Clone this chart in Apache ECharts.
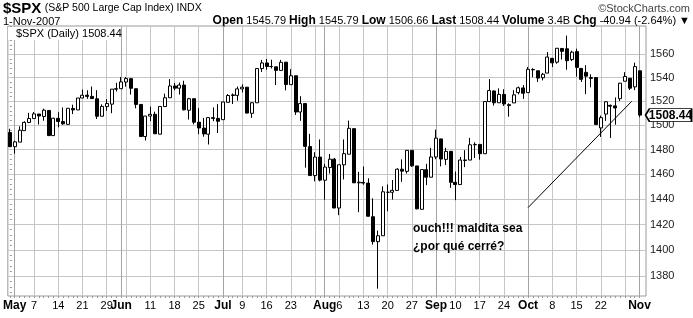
<!DOCTYPE html>
<html><head><meta charset="utf-8">
<script src="https://cdn.jsdelivr.net/npm/echarts@6/dist/echarts.min.js"></script>
<style>html,body{margin:0;padding:0;background:#fff}#c{width:693px;height:318px}</style>
</head><body><div id="c"></div>
<script>
const dates = ['2007-04-30','2007-05-01','2007-05-02','2007-05-03','2007-05-04','2007-05-07','2007-05-08','2007-05-09','2007-05-10','2007-05-11','2007-05-14','2007-05-15','2007-05-16','2007-05-17','2007-05-18','2007-05-21','2007-05-22','2007-05-23','2007-05-24','2007-05-25','2007-05-29','2007-05-30','2007-05-31','2007-06-01','2007-06-04','2007-06-05','2007-06-06','2007-06-07','2007-06-08','2007-06-11','2007-06-12','2007-06-13','2007-06-14','2007-06-15','2007-06-18','2007-06-19','2007-06-20','2007-06-21','2007-06-22','2007-06-25','2007-06-26','2007-06-27','2007-06-28','2007-06-29','2007-07-02','2007-07-03','2007-07-05','2007-07-06','2007-07-09','2007-07-10','2007-07-11','2007-07-12','2007-07-13','2007-07-16','2007-07-17','2007-07-18','2007-07-19','2007-07-20','2007-07-23','2007-07-24','2007-07-25','2007-07-26','2007-07-27','2007-07-30','2007-07-31','2007-08-01','2007-08-02','2007-08-03','2007-08-06','2007-08-07','2007-08-08','2007-08-09','2007-08-10','2007-08-13','2007-08-14','2007-08-15','2007-08-16','2007-08-17','2007-08-20','2007-08-21','2007-08-22','2007-08-23','2007-08-24','2007-08-27','2007-08-28','2007-08-29','2007-08-30','2007-08-31','2007-09-04','2007-09-05','2007-09-06','2007-09-07','2007-09-10','2007-09-11','2007-09-12','2007-09-13','2007-09-14','2007-09-17','2007-09-18','2007-09-19','2007-09-20','2007-09-21','2007-09-24','2007-09-25','2007-09-26','2007-09-27','2007-09-28','2007-10-01','2007-10-02','2007-10-03','2007-10-04','2007-10-05','2007-10-08','2007-10-09','2007-10-10','2007-10-11','2007-10-12','2007-10-15','2007-10-16','2007-10-17','2007-10-18','2007-10-19','2007-10-22','2007-10-23','2007-10-24','2007-10-25','2007-10-26','2007-10-29','2007-10-30','2007-10-31','2007-11-01'];
const open = [1494.07,1482.37,1486.13,1495.56,1502.35,1505.57,1509.36,1507.32,1512.33,1491.47,1505.76,1503.11,1500.75,1514.01,1512.74,1522.75,1525.10,1524.09,1522.10,1507.50,1515.55,1517.60,1530.19,1530.62,1536.28,1539.12,1530.57,1517.36,1490.71,1507.64,1509.12,1492.65,1515.58,1522.97,1532.90,1531.02,1533.68,1512.50,1522.19,1502.56,1497.68,1492.62,1506.32,1505.70,1504.66,1519.12,1524.86,1524.96,1530.43,1531.85,1509.93,1518.74,1547.68,1552.50,1549.52,1549.20,1546.13,1553.19,1534.06,1541.57,1511.03,1518.09,1482.44,1458.93,1473.90,1455.18,1465.46,1472.18,1433.04,1467.62,1476.22,1497.21,1453.09,1453.42,1452.87,1426.15,1406.64,1411.26,1445.55,1445.55,1447.03,1464.05,1462.34,1479.36,1466.72,1432.01,1463.67,1457.61,1473.96,1488.76,1472.03,1478.55,1453.50,1451.69,1471.10,1471.47,1483.95,1484.24,1476.63,1519.75,1528.69,1518.75,1525.75,1516.34,1518.62,1527.32,1531.24,1527.29,1546.96,1545.80,1539.91,1543.84,1556.51,1553.18,1564.98,1564.72,1555.41,1562.25,1547.81,1544.44,1539.29,1540.00,1497.79,1509.30,1516.61,1516.15,1522.17,1536.92,1539.42,1532.15,1545.79];
const high = [1497.16,1487.27,1499.10,1503.34,1510.34,1511.00,1509.36,1513.80,1512.33,1506.24,1510.90,1514.83,1514.15,1517.14,1522.75,1529.87,1529.24,1532.43,1529.31,1517.41,1521.80,1530.23,1535.56,1540.56,1540.53,1539.12,1530.57,1517.36,1507.76,1515.53,1511.33,1515.70,1526.45,1538.71,1535.44,1535.85,1537.32,1522.90,1522.19,1514.29,1506.12,1506.80,1514.84,1517.53,1519.45,1526.01,1526.57,1532.40,1534.26,1531.85,1519.34,1547.92,1555.10,1555.90,1555.32,1549.20,1555.20,1553.19,1547.23,1541.57,1524.31,1518.09,1492.89,1477.88,1488.30,1468.38,1476.43,1473.23,1467.67,1488.30,1503.89,1497.21,1462.02,1466.29,1456.74,1440.78,1415.29,1450.33,1451.75,1455.32,1464.86,1472.06,1479.40,1479.36,1466.72,1463.76,1468.43,1481.47,1496.40,1488.76,1481.49,1478.55,1462.25,1473.98,1479.50,1489.58,1485.99,1484.24,1519.89,1538.74,1529.14,1530.89,1530.18,1518.27,1529.39,1532.46,1533.74,1549.02,1548.01,1545.84,1544.02,1561.91,1556.51,1565.26,1565.42,1576.09,1563.03,1564.74,1547.81,1550.66,1542.79,1540.00,1508.06,1520.01,1517.23,1523.24,1535.53,1544.67,1539.42,1552.76,1545.79];
const low = [1482.29,1476.70,1486.13,1495.56,1501.80,1505.54,1500.66,1503.77,1491.42,1491.47,1498.34,1500.43,1500.75,1509.29,1512.74,1522.71,1522.05,1521.90,1505.18,1507.50,1512.02,1510.06,1528.26,1530.62,1532.31,1525.62,1514.13,1490.37,1487.41,1503.35,1492.97,1492.65,1515.58,1522.97,1529.31,1525.67,1512.36,1504.75,1500.74,1492.68,1490.54,1484.18,1503.41,1493.61,1504.66,1519.12,1517.72,1520.47,1527.45,1510.01,1506.10,1518.74,1544.85,1546.69,1547.74,1533.67,1546.13,1529.20,1534.06,1508.62,1503.73,1465.30,1458.57,1454.32,1454.25,1439.59,1460.58,1432.80,1427.39,1455.80,1476.22,1453.09,1429.74,1451.54,1426.20,1404.36,1370.60,1411.26,1430.54,1439.76,1447.03,1453.88,1460.54,1465.98,1432.01,1432.01,1451.25,1457.61,1472.15,1466.34,1467.41,1449.07,1439.29,1451.69,1465.75,1471.47,1473.18,1471.82,1476.63,1519.75,1516.42,1518.75,1516.15,1507.13,1518.62,1525.81,1521.99,1527.25,1540.37,1536.34,1537.63,1543.84,1549.00,1551.82,1555.46,1546.72,1554.09,1540.81,1536.29,1526.01,1531.76,1500.26,1490.40,1503.61,1489.56,1500.46,1520.18,1536.92,1529.55,1529.40,1506.66];
const close = [1482.37,1486.30,1495.92,1502.39,1505.62,1509.48,1507.72,1512.58,1491.47,1505.85,1503.15,1501.19,1514.14,1512.75,1522.75,1525.10,1524.12,1522.28,1507.51,1515.73,1518.11,1530.23,1530.62,1536.34,1539.18,1530.95,1517.38,1490.72,1507.67,1509.12,1493.00,1515.67,1522.97,1532.91,1531.05,1533.70,1512.84,1522.19,1502.56,1497.74,1492.89,1506.34,1505.71,1503.35,1519.43,1524.87,1525.40,1530.44,1531.85,1510.12,1518.76,1547.70,1552.50,1549.52,1549.37,1546.17,1553.08,1534.10,1541.57,1511.04,1518.09,1482.66,1458.95,1473.91,1455.27,1465.81,1472.20,1433.06,1467.67,1476.71,1497.49,1453.09,1453.64,1452.92,1426.54,1406.70,1411.27,1445.94,1445.55,1447.12,1464.07,1462.50,1479.37,1466.79,1432.36,1463.76,1457.64,1473.99,1489.42,1472.29,1478.55,1453.55,1451.70,1471.49,1471.56,1483.95,1484.25,1476.65,1519.78,1529.03,1518.75,1525.75,1517.73,1517.21,1525.42,1531.38,1526.75,1547.04,1546.63,1539.59,1542.84,1557.59,1552.58,1565.15,1562.47,1554.41,1561.80,1548.71,1538.53,1541.24,1540.08,1500.63,1506.33,1519.59,1515.88,1514.40,1535.28,1540.98,1531.02,1549.38,1508.44];

const yTicks = [1380,1400,1420,1440,1460,1480,1500,1520,1540,1560];
const monthStarts = ['2007-05-01','2007-06-01','2007-07-02','2007-08-01','2007-09-04','2007-10-01','2007-11-01'];
const weekStarts = ['2007-05-07','2007-05-14','2007-05-21','2007-05-29','2007-06-04','2007-06-11','2007-06-18','2007-06-25','2007-07-09','2007-07-16','2007-07-23','2007-07-30','2007-08-06','2007-08-13','2007-08-20','2007-08-27','2007-09-10','2007-09-17','2007-09-24','2007-10-08','2007-10-15','2007-10-22','2007-10-29'];
const tickDates = ['2007-05-01','2007-05-07','2007-05-14','2007-05-21','2007-05-29','2007-06-01','2007-06-11','2007-06-18','2007-06-25','2007-07-02','2007-07-09','2007-07-16','2007-07-23','2007-08-01','2007-08-06','2007-08-13','2007-08-20','2007-08-27','2007-09-04','2007-09-10','2007-09-17','2007-09-24','2007-10-01','2007-10-08','2007-10-15','2007-10-22','2007-11-01'];
const tickLabels = ['May','7','14','21','29','Jun','11','18','25','Jul','9','16','23','Aug','6','13','20','27','Sep','10','17','24','Oct','8','15','22','Nov'];
// hand-drawn trend line (x in trading-day index, y in price)
const trendX = [107, 128.4];
const trendY = [1433.4, 1520];
const noteLines = ['ouch!!! maldita sea', '¿por qué cerré?'];
const lastInfo = {date:'1-Nov-2007', open:'1545.79', high:'1545.79', low:'1506.66', last:'1508.44', volume:'3.4B', chg:'-40.94 (-2.64%)'};

const FONT = '"Liberation Sans", Arial, sans-serif';
const idx = d => dates.indexOf(d);
const monthSet = new Set(monthStarts);
const labelMap = {};
tickDates.forEach((d,i) => { labelMap[idx(d)] = monthSet.has(d) ? '{m|' + tickLabels[i] + '}' : tickLabels[i]; });
const minorY = []; for (let v = 1368; v <= 1584; v += 4) minorY.push(v);

const gridLines = [];
yTicks.forEach(v => gridLines.push({yAxis: v, lineStyle: {color: '#c6c6c6'}}));
weekStarts.forEach(d => gridLines.push({xAxis: idx(d), lineStyle: {color: '#c6c6c6'}}));
monthStarts.forEach(d => gridLines.push({xAxis: idx(d), lineStyle: {color: '#a4a4a4'}}));

const n = dates.length;
const chart = echarts.init(document.getElementById('c'), null, {renderer: 'canvas'});
chart.setOption({
  animation: false,
  backgroundColor: '#fff',
  textStyle: {fontFamily: FONT},
  grid: {left: 7, top: 26, width: 639, height: 270, show: true, borderColor: '#9a9a9a', borderWidth: 1, backgroundColor: 'transparent'},
  xAxis: {
    type: 'value', min: -0.41, max: 131.34,
    splitLine: {show: false},
    axisLine: {show: false},
    axisTick: {show: true, customValues: dates.map((d,i)=>i), length: 2, lineStyle: {color: '#999'}},
    axisLabel: {customValues: tickDates.map(idx), formatter: v => labelMap[v] || '', margin: 4,
      fontSize: 11, color: '#000', fontFamily: FONT,
      rich: {m: {fontWeight: 'bold', fontSize: 12, color: '#000', fontFamily: FONT}}}
  },
  yAxis: {
    type: 'log', logBase: 10, min: 1365.1, max: 1584.5, position: 'right',
    splitLine: {show: false},
    axisLine: {show: false},
    axisTick: {show: true, customValues: minorY, length: 2, lineStyle: {color: '#999'}},
    axisLabel: {customValues: yTicks, formatter: v => String(Math.round(v)), margin: 4, fontSize: 11, color: '#222', fontFamily: FONT}
  },
  series: [{
    type: 'candlestick',
    data: dates.map((d,i) => [i, open[i], close[i], low[i], high[i]]),
    encode: {x: 0, y: [1,2,3,4]},
    barWidth: 3.5,
    clip: false,
    itemStyle: {color: '#fff', color0: '#000', borderColor: '#000', borderColor0: '#000', borderWidth: 1},
    markLine: {
      silent: true, symbol: 'none', z: 1, animation: false,
      label: {show: false},
      lineStyle: {type: 'solid', width: 1},
      data: gridLines
    },
    markPoint: {
      silent: true, animation: false,
      symbol: 'path://M0,6 L4,0 L46,0 L46,12 L4,12 Z',
      symbolSize: [46, 13],
      symbolOffset: [29, 0],
      itemStyle: {color: '#fff', borderColor: '#000', borderWidth: 1},
      label: {show: true, position: 'inside', offset: [2, 1], formatter: () => close[n-1].toFixed(2), fontWeight: 'bold', fontSize: 12, color: '#000', fontFamily: FONT},
      data: [{coord: [n-1, close[n-1]]}]
    }
  }, {
    type: 'line',
    data: trendX.map((x,i) => [x, trendY[i]]),
    symbol: 'none', silent: true,
    lineStyle: {color: '#000', width: 1}
  }],
  graphic: [
    {type: 'text', left: 3, top: 1, style: {text: '{a|$SPX} {b|(S&P 500 Large Cap Index) INDX}', rich: {a: {fontSize: 15, fontWeight: 'bold', fontFamily: FONT, fill: '#000'}, b: {fontSize: 10.5, fontFamily: FONT, fill: '#000'}}}},
    {type: 'text', right: 3, top: 3, style: {text: '©StockCharts.com', fontSize: 11, fontFamily: FONT, fill: '#444'}},
    {type: 'text', left: 3, top: 16, style: {text: lastInfo.date, fontSize: 11, fontFamily: FONT, fill: '#000'}},
    {type: 'text', right: 3, top: 15, style: {
      text: '{k|Open} ' + lastInfo.open + ' {k|High} ' + lastInfo.high + ' {k|Low} ' + lastInfo.low + ' {k|Last} ' + lastInfo.last + ' {k|Volume} ' + lastInfo.volume + ' {k|Chg} ' + lastInfo.chg + ' ▼',
      fontSize: 11, fontFamily: FONT, fill: '#000',
      rich: {k: {fontSize: 12, fontWeight: 'bold', fontFamily: FONT, fill: '#000'}}}},
    {type: 'rect', left: 8, top: 27, shape: {width: 104, height: 13}, style: {fill: '#fff'}, z: 10},
    {type: 'group', left: 9, top: 30, z: 11, children: [
      {type: 'rect', shape: {x: 0, y: 1, width: 2, height: 6}, style: {fill: '#000'}},
      {type: 'line', shape: {x1: 1, y1: 0, x2: 1, y2: 8}, style: {stroke: '#000'}},
      {type: 'rect', shape: {x: 3.5, y: 2, width: 2, height: 5}, style: {fill: '#fff', stroke: '#000', lineWidth: 1}}
    ]},
    {type: 'text', left: 16, top: 28, z: 11, style: {text: '$SPX (Daily) ' + lastInfo.last, fontSize: 11, fontFamily: FONT, fill: '#000'}},
    {type: 'text', left: 413, top: 220, z: 11, style: {text: noteLines.join('\n'), fontSize: 12, fontWeight: 'bold', lineHeight: 18, fontFamily: FONT, fill: '#000'}}
  ]
});
</script>
</body></html>
